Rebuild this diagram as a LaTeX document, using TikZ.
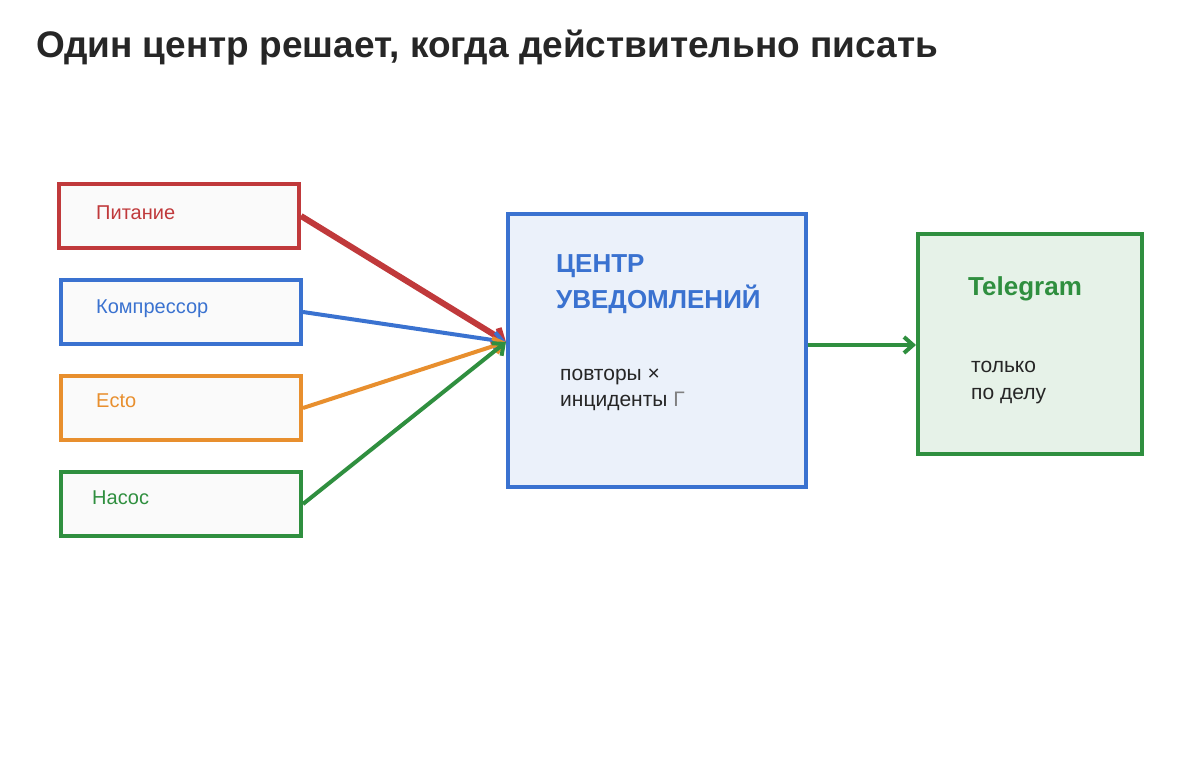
\documentclass[tikz,border=0pt]{standalone}
\usepackage{fontspec}
\setmainfont{Liberation Sans}
\usetikzlibrary{arrows.meta}
\definecolor{cr}{HTML}{C0393B}
\definecolor{cb}{HTML}{3A72D0}
\definecolor{co}{HTML}{E88F2E}
\definecolor{cg}{HTML}{2F8F3F}
\begin{document}
\begin{tikzpicture}[x=1pt,y=-1pt,
 src/.style={draw=#1,line width=4pt,fill=gray!4,minimum width=240pt,minimum height=64pt,inner sep=0pt},
 lab/.style={font=\fontsize{20}{24}\selectfont,anchor=west},
 conn/.style={draw=#1,line width=4pt,-{Straight Barb[length=9pt,width=16pt]}}]
\useasboundingbox (0,0) rectangle (1200,760);
\fill[white] (0,0) rectangle (1200,760);
\node[anchor=west,font=\bfseries\fontsize{37}{42}\selectfont,text=black!85,inner sep=0pt] (title) at (36,48) {Один центр решает, когда действительно писать};
\node[src=cr] (p) at (179,216) {};
\node[src=cb] (k) at (181,312) {};
\node[src=co] (e) at (181,408) {};
\node[src=cg] (n) at (181,504) {};
\node[lab,text=cr,inner sep=0pt] at (96,213) {Питание};
\node[lab,text=cb,inner sep=0pt] at (96,309) {Компрессор};
\node[lab,text=co,inner sep=0pt] at (96,401) {Ecto};
\node[lab,text=cg,inner sep=0pt] at (92,498) {Насос};
\node[draw=cb,line width=4pt,fill=cb!10,minimum width=298pt,minimum height=273pt] (c) at (657,350) {};
\node[anchor=west,align=left,font=\bfseries\fontsize{26}{36}\selectfont,text=cb,inner sep=0pt] at (556,284) {ЦЕНТР\\УВЕДОМЛЕНИЙ};
\node[anchor=west,align=left,font=\fontsize{21}{26}\selectfont,text=black!85,inner sep=0pt] at (560,390) {повторы ×\\инциденты \textcolor{gray}{Г}};
\node[draw=cg,line width=4pt,fill=cg!12,minimum width=224pt,minimum height=220pt] (t) at (1030,344) {};
\node[anchor=west,font=\bfseries\fontsize{26}{30}\selectfont,text=cg,inner sep=0pt] at (968,289) {Telegram};
\node[anchor=west,align=left,font=\fontsize{21}{27}\selectfont,text=black!85,inner sep=0pt] at (971,383) {только\\по делу};
\coordinate (in) at (506,342);
\draw[conn=cr,line width=6pt] (p.east) -- (in);
\draw[conn=cb] (k.east) -- (in);
\draw[conn=co] (e.east) -- (in);
\draw[conn=cg] (n.east) -- (in);
\draw[conn=cg] (c.east |- 0,345) -- (t.west |- 0,345);
\end{tikzpicture}
\end{document}
